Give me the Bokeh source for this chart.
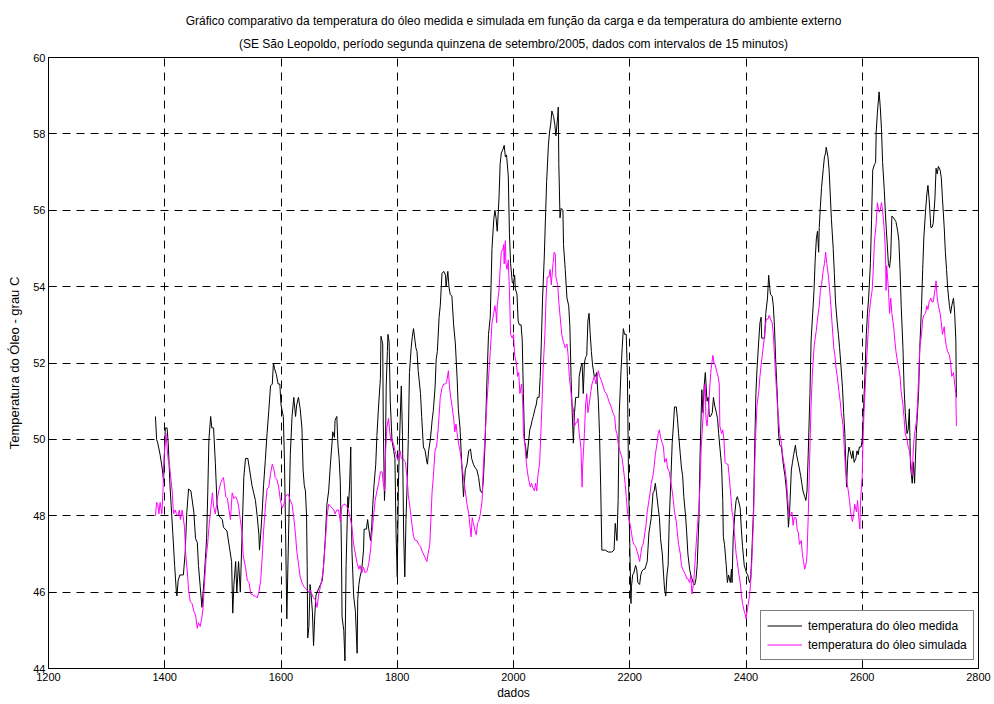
from bokeh.plotting import figure
from bokeh.models import Title, FixedTicker
from bokeh.embed import file_html
from bokeh.resources import INLINE

title_line1 = "Gráfico comparativo da temperatura do óleo medida e simulada em função da carga e da temperatura do ambiente externo"
title_line2 = "(SE São Leopoldo, período segunda quinzena de setembro/2005, dados com intervalos de 15 minutos)"
x_label = "dados"
y_label = "Temperatura do Óleo - grau C"
series_names = ["temperatura do óleo medida", "temperatura do óleo simulada"]
x_ticks = [1200, 1400, 1600, 1800, 2000, 2200, 2400, 2600, 2800]
y_ticks = [44, 46, 48, 50, 52, 54, 56, 58, 60]

measured_x = [
    1384, 1386, 1388, 1392, 1396, 1398, 1400, 1401, 1404, 1406, 1409, 1414, 1417, 1420, 1421, 1423, 1426, 1432, 1435, 1438,
    1441, 1445, 1450, 1453, 1456, 1458, 1461, 1464, 1466, 1468, 1472, 1474, 1476, 1479, 1481, 1484, 1487, 1490, 1493, 1499,
    1501, 1507, 1512, 1515, 1517, 1519, 1522, 1524, 1527, 1530, 1533, 1536, 1539, 1543, 1546, 1550, 1553, 1556, 1559, 1562,
    1563, 1565, 1568, 1570, 1573, 1576, 1579, 1582, 1585, 1587, 1589, 1592, 1595, 1598, 1600, 1604, 1606, 1608, 1610, 1613,
    1616, 1619, 1622, 1625, 1627, 1630, 1633, 1636, 1638, 1640, 1642, 1644, 1645, 1646, 1648, 1650, 1652, 1654, 1656, 1658,
    1660, 1662, 1665, 1668, 1671, 1673, 1676, 1679, 1682, 1685, 1688, 1689, 1692, 1693, 1696, 1698, 1700, 1702, 1704, 1705,
    1708, 1710, 1712, 1715, 1716, 1718, 1720, 1722, 1725, 1728, 1731, 1732, 1734, 1736, 1739, 1742, 1743, 1747, 1749, 1751,
    1754, 1756, 1758, 1760, 1763, 1765, 1768, 1771, 1772, 1775, 1776, 1778, 1779, 1781, 1783, 1784, 1786, 1788, 1790, 1791,
    1794, 1796, 1798, 1800, 1802, 1804, 1806, 1807, 1809, 1811, 1813, 1815, 1817, 1819, 1821, 1824, 1826, 1828, 1830, 1832,
    1834, 1836, 1840, 1842, 1845, 1848, 1851, 1852, 1854, 1857, 1860, 1862, 1865, 1867, 1869, 1872, 1874, 1877, 1880, 1883,
    1884, 1887, 1889, 1891, 1894, 1897, 1900, 1903, 1905, 1908, 1911, 1914, 1917, 1920, 1923, 1926, 1928, 1931, 1934, 1937,
    1940, 1943, 1946, 1948, 1951, 1954, 1957, 1960, 1963, 1966, 1968, 1970, 1972, 1975, 1977, 1979, 1982, 1984, 1986, 1988,
    1991, 1993, 1995, 1998, 2000, 2002, 2003, 2006, 2008, 2010, 2013, 2015, 2017, 2019, 2021, 2023, 2025, 2028, 2030, 2032,
    2034, 2037, 2039, 2041, 2044, 2046, 2048, 2050, 2053, 2055, 2057, 2060, 2062, 2064, 2066, 2069, 2071, 2073, 2076, 2077,
    2078, 2080, 2082, 2085, 2086, 2089, 2092, 2095, 2097, 2099, 2101, 2103, 2105, 2107, 2109, 2112, 2113, 2116, 2118, 2120,
    2122, 2124, 2126, 2128, 2130, 2132, 2134, 2136, 2139, 2141, 2143, 2146, 2148, 2150, 2152, 2158, 2163, 2169, 2173, 2175,
    2178, 2180, 2182, 2185, 2187, 2189, 2191, 2194, 2196, 2198, 2201, 2202, 2203, 2205, 2207, 2210, 2212, 2214, 2217, 2219,
    2221, 2224, 2226, 2228, 2230, 2233, 2235, 2237, 2240, 2242, 2244, 2246, 2249, 2251, 2253, 2256, 2258, 2260, 2262, 2264,
    2266, 2268, 2271, 2273, 2275, 2277, 2280, 2282, 2284, 2287, 2289, 2291, 2293, 2296, 2298, 2300, 2303, 2305, 2307, 2310,
    2312, 2314, 2316, 2319, 2321, 2324, 2326, 2328, 2330, 2333, 2335, 2337, 2339, 2342, 2344, 2346, 2349, 2351, 2353, 2355,
    2358, 2360, 2361, 2363, 2366, 2368, 2370, 2373, 2375, 2376, 2378, 2381, 2383, 2385, 2387, 2390, 2392, 2394, 2397, 2399,
    2401, 2403, 2406, 2408, 2410, 2413, 2415, 2417, 2419, 2422, 2424, 2426, 2427, 2430, 2432, 2434, 2437, 2439, 2441, 2442,
    2445, 2447, 2449, 2451, 2454, 2456, 2458, 2461, 2463, 2465, 2467, 2470, 2472, 2473, 2475, 2478, 2480, 2482, 2485, 2487,
    2489, 2491, 2494, 2496, 2498, 2501, 2503, 2505, 2507, 2510, 2512, 2514, 2517, 2519, 2521, 2523, 2525, 2526, 2528, 2530,
    2533, 2535, 2537, 2538, 2541, 2543, 2545, 2547, 2550, 2552, 2554, 2557, 2559, 2561, 2563, 2566, 2568, 2570, 2573, 2575,
    2577, 2579, 2582, 2584, 2586, 2589, 2591, 2593, 2595, 2598, 2600, 2602, 2605, 2607, 2609, 2611, 2614, 2616, 2618, 2621,
    2623, 2624, 2626, 2629, 2631, 2633, 2635, 2638, 2640, 2642, 2645, 2647, 2649, 2651, 2654, 2656, 2658, 2661, 2663, 2665,
    2667, 2670, 2672, 2674, 2677, 2679, 2681, 2683, 2686, 2688, 2690, 2693, 2695, 2697, 2699, 2702, 2704, 2706, 2709, 2711,
    2713, 2715, 2718, 2720, 2722, 2725, 2727, 2729, 2731, 2734, 2736, 2738, 2741, 2743, 2745, 2747, 2750, 2752, 2754, 2757,
    2759, 2761, 2762,
]
measured_y = [
    50.6, 50.0, 49.9, 49.6, 49.2, 48.9, 49.9, 50.3, 50.3, 49.9, 48.8, 47.5, 46.7, 46.0, 45.9, 46.3, 46.45, 46.45, 47.0, 48.1,
    48.7, 48.65, 48.1, 47.4, 47.3, 46.7, 46.15, 45.6, 46.0, 46.4, 47.4, 48.6, 50.0, 50.6, 50.3, 50.3, 49.4, 48.3, 48.0, 47.9,
    47.7, 47.6, 47.1, 46.8, 45.45, 46.2, 46.8, 46.0, 46.8, 46.0, 47.5, 49.0, 49.5, 49.5, 49.2, 48.8, 48.6, 48.4, 48.0, 47.5,
    47.1, 47.5, 48.2, 48.8, 49.45, 50.15, 50.75, 51.4, 51.45, 52.0, 51.85, 51.7, 51.45, 51.45, 50.9, 50.6, 49.4, 47.5, 45.3, 47.5,
    49.6, 50.6, 51.1, 50.6, 50.9, 51.1, 50.8, 50.3, 49.2, 48.8, 48.65, 48.0, 46.7, 44.8, 45.1, 46.2, 45.9, 45.5, 44.6, 45.35,
    45.9, 46.0, 46.1, 46.2, 46.3, 46.65, 47.35, 48.3, 48.65, 49.35, 49.95, 50.2, 50.05, 50.5, 50.6, 49.85, 49.5, 48.9, 47.1, 45.35,
    45.0, 44.2, 46.7, 48.5, 48.2, 48.8, 49.8, 47.1, 45.9, 45.5, 44.4, 45.8, 46.2, 46.4, 46.6, 47.1, 47.65, 47.65, 47.9, 47.65,
    47.35, 47.7, 48.3, 48.8, 49.35, 50.1, 50.9, 51.6, 52.7, 52.5, 50.4, 48.4, 48.8, 51.4, 52.3, 52.75, 52.55, 51.0, 50.3, 49.96,
    49.7, 49.5, 47.5, 46.4, 48.8, 50.0, 51.0, 51.4, 50.1, 47.5, 46.4, 47.9, 48.8, 50.0, 51.75, 52.4, 52.7, 52.9, 52.65, 52.4,
    52.3, 51.8, 51.2, 50.6, 49.8, 49.7, 49.4, 49.35, 49.7, 50.0, 50.5, 50.75, 51.35, 52.1, 52.3, 53.2, 53.5, 54.35, 54.4, 54.3,
    54.0, 54.4, 54.0, 53.8, 53.75, 53.0, 52.5, 51.6, 50.8, 50.3, 49.35, 48.5, 49.2, 49.35, 49.7, 49.75, 49.5, 49.35, 49.26, 49.2,
    49.0, 48.65, 48.6, 48.9, 49.85, 51.4, 52.75, 53.2, 55.0, 55.75, 56.0, 55.8, 55.45, 56.3, 57.2, 57.5, 57.6, 57.7, 57.4, 57.45,
    56.9, 55.4, 54.6, 54.1, 54.1, 54.3, 53.95, 53.8, 53.1, 53.0, 53.0, 52.6, 51.2, 49.95, 49.8, 49.5, 49.8, 50.25, 50.35, 50.5,
    50.6, 50.8, 50.9, 51.1, 51.1, 51.65, 52.6, 53.7, 54.8, 55.8, 56.75, 57.7, 58.05, 58.25, 58.6, 58.45, 58.25, 57.95, 58.45, 58.7,
    57.2, 55.8, 56.05, 56.0, 55.1, 54.45, 53.7, 53.5, 52.95, 51.65, 50.7, 49.9, 50.7, 51.1, 51.1, 51.1, 51.65, 51.9, 52.0, 51.2,
    52.0, 52.15, 52.2, 53.1, 53.3, 52.75, 52.3, 51.95, 51.65, 51.65, 51.75, 51.0, 50.15, 48.75, 47.1, 47.1, 47.05, 47.05, 47.1, 47.8,
    47.35, 48.4, 50.7, 51.8, 52.4, 52.9, 52.75, 52.75, 51.65, 48.85, 46.5, 45.7, 46.15, 46.45, 46.5, 46.7, 46.6, 46.25, 46.2, 46.45,
    46.55, 46.6, 46.6, 46.7, 46.8, 47.55, 47.75, 47.95, 48.6, 48.65, 48.85, 48.6, 48.2, 47.95, 47.4, 47.0, 46.5, 46.05, 45.9, 46.45,
    46.7, 47.9, 49.05, 49.9, 50.35, 50.85, 50.85, 50.55, 50.15, 49.6, 49.25, 49.05, 48.5, 48.0, 47.55, 47.0, 46.6, 46.45, 46.35, 46.2,
    46.2, 46.35, 46.7, 47.9, 49.6, 51.3, 50.7, 51.4, 51.75, 51.0, 51.1, 50.6, 50.6, 50.7, 51.1, 50.9, 50.7, 50.55, 50.15, 49.8,
    49.3, 48.4, 47.45, 47.25, 46.7, 46.25, 46.45, 46.25, 46.6, 46.25, 47.45, 48.1, 48.4, 48.5, 48.4, 48.2, 47.65, 47.2, 46.7, 46.6,
    46.5, 46.45, 46.25, 46.35, 47.0, 48.2, 49.8, 51.2, 51.85, 52.6, 53.05, 53.2, 52.65, 52.65, 52.65, 53.3, 53.7, 54.3, 53.95, 53.8,
    53.75, 53.5, 52.95, 52.1, 51.1, 50.15, 49.85, 49.8, 49.5, 49.25, 49.05, 48.6, 48.1, 47.7, 48.1, 49.2, 49.4, 49.6, 49.85, 49.6,
    49.45, 49.3, 49.05, 48.85, 48.65, 48.5, 48.4, 48.65, 49.6, 51.2, 52.6, 53.1, 53.9, 54.7, 55.25, 55.45, 54.9, 55.55, 56.1, 56.6,
    57.1, 57.4, 57.5, 57.65, 57.4, 57.05, 56.4, 55.75, 55.0, 54.35, 53.6, 53.05, 52.75, 52.4, 52.0, 51.35, 50.7, 50.15, 48.75, 49.5,
    49.8, 49.7, 49.5, 49.7, 49.4, 49.5, 49.7, 49.6, 49.8, 49.8, 50.0, 50.7, 51.85, 52.75, 53.3, 53.7, 54.6, 55.75, 57.05, 57.2,
    57.25, 58.05, 58.55, 59.1, 58.7, 58.15, 57.25, 56.5, 55.85, 55.35, 54.6, 54.5, 54.8, 55.85, 55.8, 55.75, 55.7, 55.45, 55.2, 54.45,
    53.5, 52.4, 51.35, 50.7, 50.15, 50.25, 50.8, 49.3, 48.85, 49.4, 48.85, 50.15, 50.7, 51.25, 52.4, 53.5, 54.45, 55.3, 56.0, 56.4,
    56.65, 56.3, 55.55, 55.55, 55.65, 56.3, 57.1, 56.95, 57.15, 57.05, 56.85, 56.3, 55.55, 54.9, 54.45, 53.95, 53.5, 53.3, 53.5, 53.7,
    53.3, 52.6, 51.1,
]

simulated_x = [
    1384, 1386, 1388, 1390, 1392, 1395, 1397, 1399, 1402, 1404, 1406, 1408, 1411, 1413, 1415, 1418, 1420, 1423, 1425, 1427,
    1430, 1431, 1434, 1436, 1439, 1441, 1444, 1447, 1450, 1453, 1456, 1458, 1461, 1464, 1466, 1468, 1471, 1474, 1476, 1479,
    1482, 1484, 1487, 1490, 1493, 1496, 1499, 1501, 1503, 1505, 1508, 1510, 1513, 1516, 1519, 1522, 1525, 1527, 1530, 1533,
    1535, 1539, 1542, 1545, 1548, 1550, 1553, 1556, 1559, 1562, 1565, 1568, 1570, 1573, 1576, 1579, 1582, 1585, 1588, 1590,
    1593, 1596, 1599, 1602, 1605, 1608, 1610, 1613, 1616, 1619, 1622, 1625, 1627, 1630, 1633, 1636, 1639, 1642, 1645, 1648,
    1650, 1653, 1656, 1659, 1662, 1665, 1668, 1671, 1673, 1676, 1679, 1682, 1685, 1688, 1691, 1693, 1696, 1699, 1702, 1705,
    1708, 1711, 1713, 1716, 1719, 1722, 1725, 1728, 1731, 1734, 1736, 1739, 1742, 1745, 1748, 1751, 1754, 1756, 1759, 1762,
    1765, 1768, 1771, 1774, 1776, 1778, 1780, 1782, 1785, 1787, 1789, 1791, 1794, 1796, 1798, 1801, 1803, 1805, 1807, 1810,
    1812, 1814, 1817, 1819, 1822, 1825, 1828, 1831, 1834, 1837, 1840, 1842, 1845, 1848, 1851, 1853, 1856, 1858, 1860, 1862,
    1865, 1868, 1871, 1874, 1877, 1880, 1883, 1885, 1888, 1890, 1892, 1894, 1897, 1899, 1901, 1904, 1906, 1908, 1911, 1914,
    1917, 1920, 1923, 1926, 1927, 1929, 1931, 1934, 1936, 1938, 1940, 1943, 1946, 1948, 1951, 1954, 1957, 1960, 1963, 1966,
    1968, 1970, 1971, 1972, 1975, 1977, 1979, 1982, 1983, 1984, 1985, 1986, 1987, 1989, 1991, 1993, 1995, 1998, 2000, 2002,
    2005, 2007, 2009, 2011, 2014, 2016, 2017, 2020, 2022, 2024, 2026, 2029, 2031, 2033, 2036, 2038, 2040, 2042, 2045, 2047,
    2049, 2051, 2054, 2056, 2058, 2061, 2063, 2065, 2068, 2070, 2072, 2073, 2076, 2078, 2080, 2083, 2085, 2087, 2089, 2092,
    2094, 2096, 2098, 2101, 2103, 2105, 2108, 2110, 2111, 2113, 2116, 2118, 2119, 2122, 2124, 2126, 2128, 2130, 2133, 2135,
    2137, 2139, 2142, 2144, 2146, 2148, 2151, 2153, 2155, 2157, 2160, 2162, 2164, 2167, 2169, 2171, 2174, 2176, 2178, 2180,
    2183, 2185, 2187, 2189, 2192, 2194, 2196, 2198, 2201, 2203, 2205, 2207, 2210, 2212, 2214, 2217, 2219, 2221, 2223, 2226,
    2228, 2230, 2233, 2235, 2237, 2240, 2242, 2244, 2247, 2249, 2251, 2253, 2256, 2258, 2260, 2263, 2265, 2268, 2270, 2273,
    2275, 2277, 2280, 2282, 2284, 2287, 2289, 2291, 2293, 2296, 2298, 2300, 2303, 2305, 2307, 2310, 2312, 2314, 2316, 2319,
    2321, 2323, 2326, 2328, 2330, 2331, 2333, 2336, 2338, 2340, 2343, 2345, 2347, 2350, 2352, 2354, 2355, 2358, 2360, 2362,
    2364, 2367, 2369, 2371, 2374, 2376, 2378, 2380, 2383, 2385, 2387, 2390, 2392, 2394, 2397, 2399, 2400, 2401, 2403, 2406,
    2408, 2410, 2413, 2415, 2417, 2419, 2422, 2424, 2426, 2428, 2431, 2433, 2435, 2438, 2440, 2442, 2445, 2447, 2449, 2451,
    2454, 2456, 2458, 2461, 2463, 2465, 2467, 2470, 2472, 2474, 2476, 2479, 2481, 2483, 2486, 2488, 2490, 2492, 2495, 2497,
    2499, 2501, 2504, 2505, 2507, 2510, 2512, 2514, 2517, 2519, 2521, 2523, 2526, 2528, 2530, 2533, 2535, 2537, 2539, 2542,
    2544, 2546, 2548, 2551, 2553, 2555, 2557, 2560, 2562, 2564, 2567, 2569, 2571, 2574, 2576, 2578, 2580, 2583, 2585, 2587,
    2590, 2592, 2594, 2596, 2597, 2600, 2601, 2603, 2606, 2608, 2610, 2612, 2615, 2617, 2619, 2621, 2624, 2626, 2629, 2631,
    2633, 2635, 2638, 2640, 2641, 2642, 2645, 2647, 2649, 2651, 2654, 2656, 2658, 2661, 2663, 2665, 2667, 2670, 2672, 2674,
    2677, 2679, 2681, 2683, 2686, 2688, 2690, 2693, 2695, 2697, 2699, 2702, 2704, 2706, 2709, 2711, 2713, 2715, 2718, 2720,
    2722, 2725, 2727, 2729, 2731, 2734, 2736, 2738, 2741, 2743, 2745, 2747, 2750, 2752, 2754, 2757, 2759, 2761, 2762,
]
simulated_y = [
    48.0, 48.35, 48.3, 48.05, 48.35, 48.05, 48.65, 49.55, 50.15, 49.8, 49.45, 49.35, 48.9, 48.6, 48.05, 48.15, 48.05, 48.0, 48.15, 47.9,
    48.15, 48.05, 47.7, 47.0, 46.5, 46.05, 45.75, 45.7, 45.5, 45.4, 45.05, 45.2, 45.1, 45.35, 45.6, 46.15, 46.85, 47.3, 47.7, 48.15,
    48.6, 48.25, 48.05, 48.4, 48.65, 48.85, 48.95, 49.0, 48.75, 48.5, 48.45, 48.2, 47.9, 48.6, 48.45, 48.5, 48.4, 48.25, 47.9, 47.55,
    46.95, 46.65, 46.3, 46.25, 45.95, 45.95, 45.9, 45.9, 45.85, 46.0, 46.3, 47.0, 47.6, 48.2, 48.7, 48.75, 49.1, 49.35, 49.2, 49.0,
    48.95, 48.75, 48.4, 48.2, 48.3, 48.5, 48.55, 48.55, 48.4, 48.3, 47.95, 47.5, 47.1, 46.75, 46.4, 46.25, 46.15, 46.1, 46.05, 46.0,
    46.05, 45.95, 45.85, 45.8, 45.6, 45.95, 46.15, 46.4, 46.65, 47.25, 47.95, 48.3, 48.25, 48.2, 48.15, 48.05, 48.15, 48.15, 47.85, 48.25,
    48.3, 48.3, 48.25, 48.15, 47.95, 47.7, 47.25, 47.0, 46.75, 46.6, 46.7, 46.5, 46.65, 46.5, 46.55, 46.75, 47.1, 47.45, 47.95, 48.4,
    48.65, 48.85, 49.15, 49.15, 48.85, 48.65, 49.7, 50.3, 50.55, 50.2, 49.95, 50.0, 49.85, 49.7, 49.6, 49.45, 49.6, 49.7, 49.5, 49.5,
    49.45, 49.4, 49.0, 48.55, 48.2, 47.8, 47.45, 47.35, 47.35, 47.25, 47.2, 47.1, 47.0, 46.9, 46.8, 47.0, 47.25, 47.95, 48.65, 49.0,
    49.7, 49.85, 50.4, 51.1, 51.35, 51.45, 51.45, 51.5, 51.8, 51.35, 51.1, 50.9, 50.55, 50.2, 50.4, 50.05, 49.85, 49.7, 49.35, 49.0,
    48.65, 48.3, 48.05, 47.6, 47.45, 47.95, 47.8, 47.6, 47.5, 47.8, 47.85, 48.05, 48.4, 49.25, 50.05, 50.9, 51.6, 52.3, 53.05, 53.3,
    53.5, 53.3, 53.05, 53.5, 53.9, 54.45, 54.9, 55.0, 55.1, 54.6, 55.0, 55.2, 54.6, 54.45, 54.7, 53.9, 52.75, 52.65, 52.75, 52.2,
    52.0, 51.65, 51.75, 51.2, 51.45, 50.9, 50.15, 49.8, 49.4, 49.15, 48.95, 48.75, 48.85, 48.75, 48.65, 48.85, 48.65, 49.05, 49.4, 50.15,
    50.9, 51.85, 52.75, 53.7, 54.25, 54.25, 54.45, 54.05, 54.6, 54.9, 54.85, 54.25, 54.05, 53.6, 53.25, 52.75, 52.6, 52.5, 52.4, 52.5,
    52.2, 51.65, 51.35, 50.9, 50.8, 50.35, 50.45, 50.45, 50.55, 50.15, 49.8, 48.75, 49.3, 50.15, 50.9, 51.2, 50.7, 50.9, 51.25, 51.45,
    51.55, 51.65, 51.45, 51.65, 51.8, 51.65, 51.55, 51.45, 51.35, 51.25, 51.2, 51.1, 51.0, 50.9, 50.8, 50.7, 50.6, 50.25, 50.15, 49.9,
    49.7, 49.6, 49.5, 49.25, 48.85, 48.5, 48.1, 47.95, 47.75, 47.55, 47.35, 47.25, 47.2, 47.1, 47.0, 46.8, 47.0, 47.2, 47.25, 47.55,
    47.75, 48.1, 48.4, 48.6, 48.85, 49.05, 49.3, 49.6, 49.9, 50.15, 50.25, 50.05, 49.9, 49.8, 49.4, 49.5, 49.25, 49.15, 48.95, 48.65,
    48.4, 48.1, 47.85, 47.55, 47.25, 47.0, 46.7, 46.6, 46.55, 46.45, 46.35, 46.35, 46.25, 46.45, 45.95, 46.25, 46.7, 47.2, 47.65, 48.2,
    48.85, 49.8, 50.55, 51.2, 51.45, 50.55, 50.35, 50.9, 51.45, 51.85, 52.2, 52.0, 51.95, 51.75, 51.65, 51.45, 50.35, 50.15, 50.25, 50.0,
    49.4, 49.35, 49.35, 49.05, 48.5, 48.1, 47.95, 47.55, 47.0, 46.8, 46.55, 46.25, 45.95, 45.7, 45.5, 45.4, 45.3, 45.4, 45.6, 45.9,
    46.25, 46.8, 47.95, 49.3, 50.25, 50.9, 51.25, 51.65, 51.95, 52.2, 52.6, 52.95, 53.15, 53.15, 53.25, 53.15, 53.05, 52.75, 52.2, 51.65,
    50.9, 50.55, 50.15, 49.9, 49.6, 49.4, 49.25, 48.85, 48.4, 47.95, 48.0, 48.1, 47.75, 47.95, 47.95, 47.65, 47.55, 47.25, 47.35, 47.0,
    46.8, 46.6, 46.8, 47.0, 47.95, 49.8, 50.9, 51.65, 52.4, 52.65, 52.85, 53.15, 53.5, 53.9, 54.05, 54.45, 54.6, 54.9, 54.6, 54.25,
    53.9, 53.5, 53.05, 52.4, 52.2, 51.85, 51.65, 51.25, 51.0, 50.7, 50.35, 49.8, 49.25, 48.85, 48.65, 48.4, 48.1, 47.85, 48.0, 48.3,
    48.1, 48.4, 47.95, 47.65, 48.4, 49.05, 49.8, 50.7, 51.65, 52.2, 52.75, 53.3, 53.7, 53.9, 54.45, 55.2, 55.65, 56.2, 55.95, 56.0,
    56.2, 56.0, 55.45, 54.9, 53.9, 54.55, 53.95, 53.3, 53.7, 53.3, 52.95, 52.6, 52.3, 52.0, 51.85, 51.65, 51.25, 50.9, 50.55, 50.15,
    50.0, 49.8, 49.7, 49.5, 49.05, 49.8, 50.15, 50.45, 50.9, 51.65, 52.4, 52.75, 53.15, 53.25, 53.3, 53.5, 53.4, 53.6, 53.7, 53.6,
    53.6, 53.9, 54.15, 53.7, 53.5, 53.3, 53.05, 52.75, 52.95, 52.6, 52.4, 52.3, 52.2, 52.0, 51.65, 51.75, 51.45, 51.2, 50.35,
]

FONT = "Liberation Sans"

p = figure(width=994, height=704, x_range=(1200, 2800), y_range=(44, 60),
           output_backend="svg", toolbar_location=None,
           min_border_left=48, min_border_right=16, min_border_top=57, min_border_bottom=36,
           background_fill_color="white", border_fill_color="white")

xax = p.below[0]
yax = p.left[0]

p.add_layout(Title(text=title_line2, align="center", standoff=14,
                   text_font=FONT, text_font_size="12px", text_font_style="normal",
                   text_color="black"), "above")
p.add_layout(Title(text=title_line1, align="center", standoff=0,
                   text_font=FONT, text_font_size="12px", text_font_style="normal",
                   text_color="black"), "above")

p.line(measured_x, measured_y, line_color="black", line_width=1, legend_label=series_names[0])
p.line(simulated_x, simulated_y, line_color="#FF00FF", line_width=1, legend_label=series_names[1])

xax.ticker = FixedTicker(ticks=x_ticks)
yax.ticker = FixedTicker(ticks=y_ticks)
p.xgrid.ticker = FixedTicker(ticks=x_ticks)
p.ygrid.ticker = FixedTicker(ticks=y_ticks)
for ax in (xax, yax):
    ax.axis_line_color = "black"
    ax.axis_line_width = 1
    ax.major_tick_line_color = "black"
    ax.major_tick_in = 8
    ax.major_tick_out = 0
    ax.minor_tick_in = 0
    ax.minor_tick_out = 0
    ax.major_label_text_font = FONT
    ax.major_label_text_font_size = "11px"
    ax.major_label_text_color = "black"
xax.major_label_standoff = 4
yax.major_label_standoff = 3
xax.axis_label = x_label
xax.axis_label_text_font = FONT
xax.axis_label_text_font_size = "12px"
xax.axis_label_text_font_style = "normal"
xax.axis_label_text_color = "black"
xax.axis_label_standoff = 2
yax.axis_label = y_label
yax.axis_label_text_font = FONT
yax.axis_label_text_font_size = "13px"
yax.axis_label_text_font_style = "normal"
yax.axis_label_text_color = "black"
yax.axis_label_standoff = 8

p.grid.grid_line_color = "black"
p.grid.grid_line_dash = "8 6"
p.grid.grid_line_width = 1

p.outline_line_color = "black"
p.outline_line_width = 1

leg = p.legend[0]
leg.location = (712, 8)
leg.margin = 0
leg.padding = 6
leg.spacing = 2
leg.glyph_width = 35
leg.glyph_height = 17
leg.label_height = 17
leg.label_standoff = 6
leg.label_text_font = FONT
leg.label_text_font_size = "12px"
leg.label_text_color = "black"
leg.border_line_color = "black"
leg.border_line_width = 1
leg.background_fill_color = "white"
leg.background_fill_alpha = 1

open("out.html", "w").write(file_html(p, INLINE))
